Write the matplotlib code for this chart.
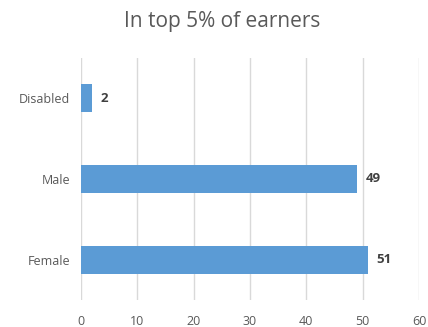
import matplotlib
matplotlib.use("Agg")
import matplotlib.pyplot as plt

categories = ["Female", "Male", "Disabled"]
values = [51, 49, 2]
xticks = [0, 10, 20, 30, 40, 50, 60]

plt.rcParams['font.family'] = ['Open Sans', 'DejaVu Sans']

fig = plt.figure(figsize=(4.28, 3.27), dpi=100)
ax = fig.add_axes([81/428, 1-300/327, (419-81)/428, (300-58)/327])

bars = ax.barh(categories, values, height=0.35, color="#5B9BD5", zorder=3)
ax.set_xlim(0, 60)
ax.set_ylim(-0.5, 2.5)
ax.set_xticks(xticks)
ax.grid(axis="x", color="#D9D9D9", linewidth=1, zorder=0)
for s in ax.spines.values():
    s.set_visible(False)
ax.tick_params(axis="both", length=0, labelsize=9, colors="#595959", pad=8)
ax.tick_params(axis="x", pad=11)

for b, v in zip(bars, values):
    ax.text(b.get_width() + 1.5, b.get_y() + b.get_height()/2, str(v),
            va="center", ha="left", fontsize=9.5, fontweight="bold", color="#404040")

fig.text(222/428, 1-22/327, "In top 5% of earners", ha="center", va="center",
         fontsize=15, color="#595959")

fig.savefig("out.png", dpi=100)
